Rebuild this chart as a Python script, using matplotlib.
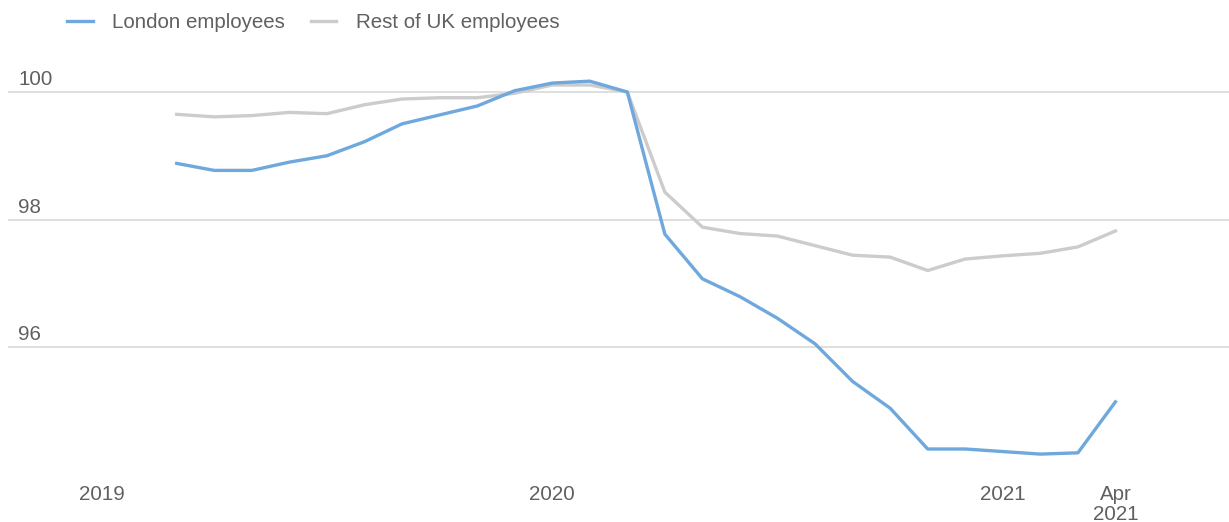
import matplotlib
matplotlib.use("Agg")
import matplotlib.pyplot as plt
import matplotlib.transforms as mtrans

# Months indexed from Jan 2019 = 0; data runs Mar 2019 .. Apr 2021
month_index = list(range(2, 28))
london = [98.88, 98.77, 98.77, 98.90, 99.00, 99.22, 99.50, 99.64, 99.78, 100.02,
          100.14, 100.17, 100.00, 97.77, 97.07, 96.79, 96.45, 96.05, 95.46, 95.04,
          94.40, 94.40, 94.36, 94.32, 94.34, 95.14]
rest_uk = [99.65, 99.61, 99.63, 99.68, 99.66, 99.80, 99.89, 99.91, 99.91, 99.98,
           100.11, 100.11, 100.00, 98.43, 97.88, 97.78, 97.74, 97.59, 97.44, 97.41,
           97.20, 97.38, 97.43, 97.47, 97.57, 97.82]
x_ticks = [0, 12, 24, 27]
x_tick_labels = ["2019", "2020", "2021", "Apr\n2021"]
y_ticks = [96, 98, 100]
y_tick_labels = ["96", "98", "100"]

plt.rcParams['font.family'] = ['Liberation Sans', 'DejaVu Sans']
TXT = "#606060"
BLUE = "#6fa8dc"
GREY = "#cccccc"
FS = 14.8

W, H = 1229, 522
fig = plt.figure(figsize=(W / 100, H / 100), dpi=100)
ax_left, ax_right = 8, 1229
ax_top, ax_bottom = 40, 475
ax = fig.add_axes([ax_left / W, (H - ax_bottom) / H, (ax_right - ax_left) / W, (ax_bottom - ax_top) / H])

px_per_month = 37.55
x0 = 101.6
ax.set_xlim(-(x0 - ax_left) / px_per_month, (ax_right - x0) / px_per_month)
px_per_unit = 63.75
y100 = 92
ax.set_ylim(100 - (ax_bottom - y100) / px_per_unit, 100 + (y100 - ax_top) / px_per_unit)

for v in y_ticks:
    ax.axhline(v, color="#d9d9d9", lw=1.2, zorder=1)

ax.plot(month_index, rest_uk, color=GREY, lw=2.4, zorder=3, label="Rest of UK employees", solid_joinstyle='round')
ax.plot(month_index, london, color=BLUE, lw=2.4, zorder=4, label="London employees", solid_joinstyle='round')

for sp in ax.spines.values():
    sp.set_visible(False)
ax.set_yticks([])
ax.set_xticks(x_ticks)
ax.set_xticklabels(x_tick_labels, fontsize=FS, color=TXT, linespacing=1.1)
ax.tick_params(axis='x', length=0, pad=7)

tr = mtrans.blended_transform_factory(ax.transAxes, ax.transData)
for v, lab in zip(y_ticks, y_tick_labels):
    ax.annotate(lab, xy=((18 - ax_left) / (ax_right - ax_left), v), xycoords=tr,
                xytext=(0, 5), textcoords='offset points', ha='left', va='baseline',
                fontsize=FS, color=TXT)

handles, labels = ax.get_legend_handles_labels()
handles = handles[::-1]
labels = labels[::-1]
leg = fig.legend(handles, labels, loc='center left', bbox_to_anchor=(67 / W, 1 - 23 / H),
                 ncol=2, frameon=False, fontsize=FS, handlelength=1.25, handletextpad=0.95,
                 columnspacing=1.25, borderpad=0, borderaxespad=0)
for t in leg.get_texts():
    t.set_color(TXT)

fig.savefig("out.png", dpi=100)
